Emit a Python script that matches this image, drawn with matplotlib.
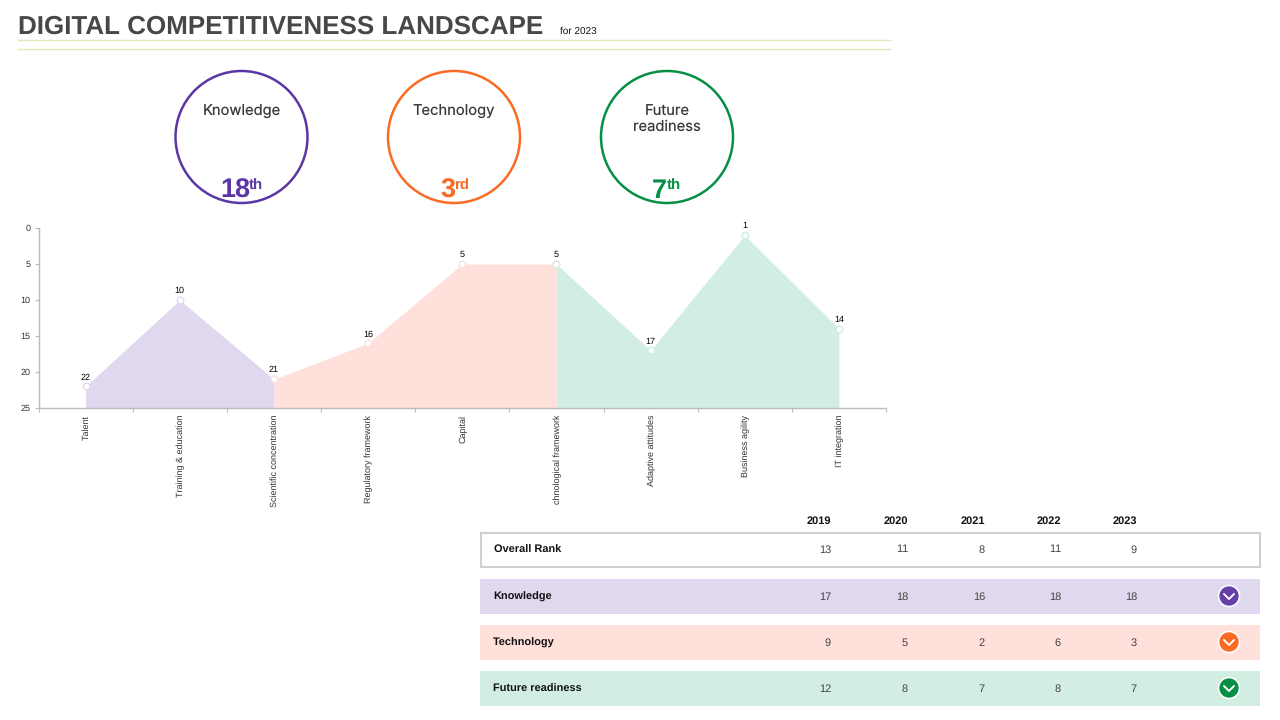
import matplotlib
matplotlib.use('Agg')
import matplotlib.pyplot as plt
from matplotlib.patches import Circle, Rectangle

# chart data
categories = ['Talent', 'Training & education', 'Scientific concentration',
              'Regulatory framework', 'Capital', 'chnological framework',
              'Adaptive attitudes', 'Business agility', 'IT integration']
ranks = [22, 10, 21, 16, 5, 5, 17, 1, 14]
knowledge_idx = [0, 1, 2]
technology_idx = [2, 3, 4, 5]
future_idx = [5, 6, 7, 8]

# factor circles
factor_names = ['Knowledge', 'Technology', 'Future\nreadiness']
factor_ranks = ['18', '3', '7']
factor_suffix = ['th', 'rd', 'th']

# table
years = ['2019', '2020', '2021', '2022', '2023']
overall = [13, 11, 8, 11, 9]
knowledge = [17, 18, 16, 18, 18]
technology = [9, 5, 2, 6, 3]
future = [12, 8, 7, 8, 7]

PURPLE, ORANGE, GREEN = '#5B37A6', '#F96A22', '#068F45'
PURPLE_L, ORANGE_L, GREEN_L = '#E0D8EE', '#FFE0DA', '#D2EEE2'

plt.rcParams['font.family'] = ['Liberation Sans', 'DejaVu Sans']
plt.rcParams['text.hinting'] = 'no_hinting'
plt.rcParams['text.hinting_factor'] = 1

fig = plt.figure(figsize=(12.8, 7.2), dpi=100)

# overlay in pixel coordinates for the layout parts
bg = fig.add_axes([0, 0, 1, 1])
bg.set_xlim(0, 1280)
bg.set_ylim(720, 0)
bg.axis('off')

bg.text(18, 34, 'DIGITAL COMPETITIVENESS LANDSCAPE', fontsize=18.75, fontweight='bold',
        color='#474747', va='baseline')
bg.text(560, 34, 'for 2023', fontsize=7, color='#111111', va='baseline')
for y in [39.5, 49]:
    bg.plot([18, 890], [y, y], color='#DFE9B8', lw=1.0)

circle_x = [241.5, 454, 667]
circle_col = [PURPLE, ORANGE, GREEN]
num_x = [220, 440, 652]
sup_x = [249, 454, 667]
label_y = [111.5, 111.5, 119]
for i in range(3):
    bg.add_patch(Circle((circle_x[i], 137), 66, fill=False, ec=circle_col[i], lw=1.8))
    bg.text(circle_x[i], label_y[i], factor_names[i], fontsize=10.6, family='Inter',
            color='#3A3A3A', ha='center', va='center', linespacing=1.12)
    bg.text(num_x[i], 198, factor_ranks[i], fontsize=19.5, fontweight='bold',
            color=circle_col[i], va='baseline')
    bg.text(sup_x[i], 190, factor_suffix[i], fontsize=11, fontweight='bold',
            color=circle_col[i], va='baseline')

# table rows
col_right = [831, 908, 985, 1061, 1137]
for j, yr in enumerate(years):
    bg.text(col_right[j], 523.5, yr, fontsize=7.6, fontweight='bold', color='#111111',
            ha='right', va='baseline')

bg.add_patch(Rectangle((480.5, 532.5), 779, 34.5, fc='white', ec='#CFCFCF', lw=1.5))
bg.text(494, 552.5, 'Overall Rank', fontsize=7.6, fontweight='bold', color='#111111', va='baseline')
for j, v in enumerate(overall):
    bg.text(col_right[j], 552.5, str(v), fontsize=7.8, color='#444444', ha='right', va='baseline')

rows = [('Knowledge', knowledge, PURPLE_L, '#6440A8', 596),
        ('Technology', technology, ORANGE_L, ORANGE, 642),
        ('Future readiness', future, GREEN_L, GREEN, 688)]
for name, vals, light, dark, yc in rows:
    bg.add_patch(Rectangle((480, yc - 17), 780, 34.5, fc=light, ec='none'))
    bg.text(493, yc + 3.5, name, fontsize=7.6, fontweight='bold', color='#111111', va='baseline')
    for j, v in enumerate(vals):
        bg.text(col_right[j], yc + 3.5, str(v), fontsize=7.8, color='#444444', ha='right', va='baseline')
    bg.add_patch(Circle((1229, yc), 10.5, fc=dark, ec='white', lw=1.2))
    bg.plot([1224, 1229, 1234], [yc - 2, yc + 3, yc - 2], color='white', lw=1.4,
            solid_capstyle='round', solid_joinstyle='round')

# area chart
ax = fig.add_axes([38.5 / 1280, 1 - 408 / 720, (886 - 38.5) / 1280, 180 / 720])
ax.patch.set_alpha(0)
x = list(range(len(ranks)))
for idx, col in [(knowledge_idx, PURPLE_L), (technology_idx, ORANGE_L), (future_idx, GREEN_L)]:
    ax.fill_between([x[i] for i in idx], [ranks[i] for i in idx], 25, color=col, lw=0)
    ax.plot([x[i] for i in idx], [ranks[i] for i in idx], ls='none', marker='o', ms=4.8,
            mfc='white', mec=col, mew=1.0, clip_on=False, zorder=3)
for xi, r in zip(x, ranks):
    ax.annotate(str(r), (xi, r), xytext=(0, 3.5), textcoords='offset points', ha='center',
                va='bottom', fontsize=6.3, color='#000000')

ax.set_xlim(-0.5, 8.5)
ax.set_ylim(25, 0)
ax.set_yticks([0, 5, 10, 15, 20, 25])
ax.set_xticks([i - 0.5 for i in range(10)], minor=False)
ax.set_xticklabels([])
ax.tick_params(axis='x', length=3, color='#BBBBBB', width=0.8)
ax.tick_params(axis='y', length=3, color='#BBBBBB', width=0.8, labelsize=6.8,
               labelcolor='#333333', pad=3)
for xi, c in zip(x, categories):
    ax.annotate(c, (xi, 25), xytext=(0.8, -5), textcoords='offset points', rotation=90,
                ha='center', va='top', fontsize=6.4, color='#333333', annotation_clip=False)
ax.spines['top'].set_visible(False)
ax.spines['right'].set_visible(False)
ax.spines['left'].set_color('#BBBBBB')
ax.spines['bottom'].set_color('#BBBBBB')
ax.spines['left'].set_linewidth(1.0)
ax.spines['bottom'].set_linewidth(1.0)

fig.savefig('out.png', dpi=100)
